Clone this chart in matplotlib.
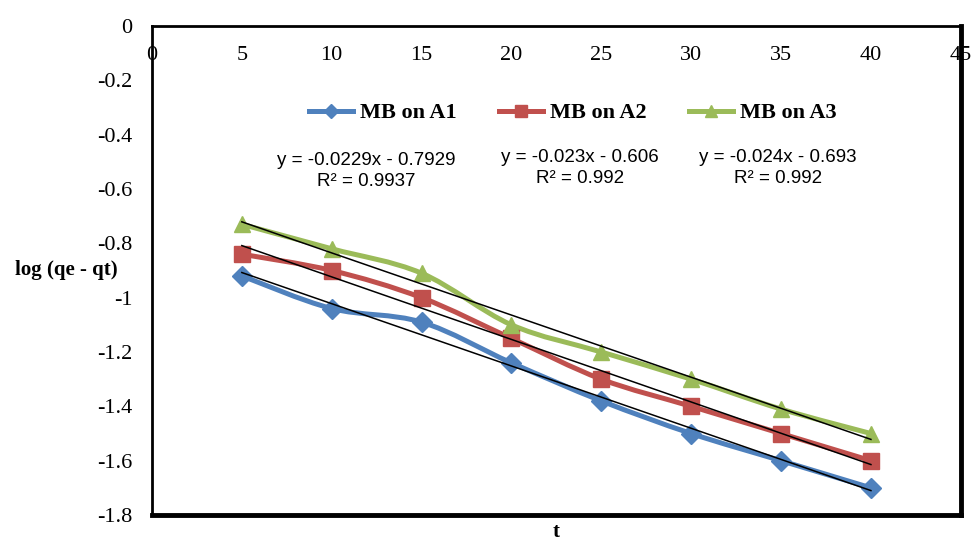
import numpy as np
import matplotlib.pyplot as plt
from matplotlib.path import Path
from matplotlib.patches import PathPatch
from matplotlib.lines import Line2D

t = [5, 10, 15, 20, 25, 30, 35, 40]
a1 = [-0.92, -1.04, -1.09, -1.24, -1.38, -1.50, -1.60, -1.70]
a2 = [-0.84, -0.90, -1.00, -1.15, -1.30, -1.40, -1.50, -1.60]
a3 = [-0.73, -0.82, -0.91, -1.10, -1.20, -1.30, -1.41, -1.50]
names = ['MB on A1', 'MB on A2', 'MB on A3']
eqs = ['y = -0.0229x - 0.7929\nR² = 0.9937',
       'y = -0.023x - 0.606\nR² = 0.992',
       'y = -0.024x - 0.693\nR² = 0.992']

colors = ['#4F81BD', '#C0504D', '#9BBB59']
markers = ['D', 's', '^']
msizes = [10, 11, 12]

serif = 'Liberation Serif'
sans = 'Liberation Sans'


def smooth_path(x, y):
    # excel-like smoothed line: catmull-rom segments as cubic beziers
    p = np.column_stack([x, y]).astype(float)
    n = len(p)
    verts = [p[0]]
    codes = [Path.MOVETO]
    for i in range(n - 1):
        p0 = p[i - 1] if i > 0 else p[i]
        p3 = p[i + 2] if i + 2 < n else p[i + 1]
        c1 = p[i] + (p[i + 1] - p0) / 6
        c2 = p[i + 1] - (p3 - p[i]) / 6
        verts += [c1, c2, p[i + 1]]
        codes += [Path.CURVE4] * 3
    return Path(verts, codes)


fig = plt.figure(figsize=(9.71, 5.41), dpi=100)
ax = fig.add_axes([0.1565, 0.048, 0.833, 0.904])

handles = []
for ys, c, m, ms, nm in zip([a1, a2, a3], colors, markers, msizes, names):
    ax.add_patch(PathPatch(smooth_path(t, ys), facecolor='none', edgecolor=c,
                           lw=3.6, capstyle='round', joinstyle='round', zorder=2))
    ax.plot(t, ys, linestyle='none', marker=m, ms=ms, color=c, zorder=3)
    k, b = np.polyfit(t, ys, 1)
    tt = np.array([t[0], t[-1]])
    ax.plot(tt, k * tt + b, color='black', lw=1.1, zorder=4)
    handles.append(Line2D([], [], color=c, lw=3.6, marker=m, ms=ms * 0.75, label=nm))

ax.set_xlim(0, 45)
ax.set_ylim(-1.8, 0)
ax.set_xticks(np.arange(0, 46, 5))
ax.set_yticks(np.arange(-1.8, 0.01, 0.2))
ax.set_yticklabels(['%g' % round(v, 1) if abs(v) > 1e-9 else '0'
                    for v in np.arange(-1.8, 0.01, 0.2)])

ax.tick_params(axis='x', length=0, labeltop=True, labelbottom=False, pad=-28)
ax.tick_params(axis='y', length=0, pad=14)
for lab in ax.get_xticklabels() + ax.get_yticklabels():
    lab.set_fontfamily(serif)
    lab.set_fontsize(16)

for s in ['left', 'top']:
    ax.spines[s].set_linewidth(2)
for s in ['right', 'bottom']:
    ax.spines[s].set_linewidth(3.5)

ax.set_ylabel('log (qe - qt)', rotation=0, fontfamily=serif, fontsize=15,
              fontweight='bold', ha='center', va='center')
ax.yaxis.set_label_coords(-0.106, 0.50)
ax.set_xlabel('t', fontfamily=serif, fontsize=15, fontweight='bold', va='center')
ax.xaxis.set_label_coords(0.5, -0.035)

ax.legend(handles=handles, ncol=3, frameon=False, loc='center',
          bbox_to_anchor=(0.52, 0.822), handlelength=2.0, handletextpad=0.3,
          columnspacing=1.9, prop={'family': serif, 'weight': 'bold', 'size': 16})

eq_x = [0.265, 0.529, 0.774]
eq_y = [0.703, 0.71, 0.71]
for s, xx, yy in zip(eqs, eq_x, eq_y):
    ax.text(xx, yy, s, transform=ax.transAxes, ha='center', va='center',
            fontfamily=sans, fontsize=13.5, linespacing=1.35)

fig.savefig('out.png', dpi=100)
